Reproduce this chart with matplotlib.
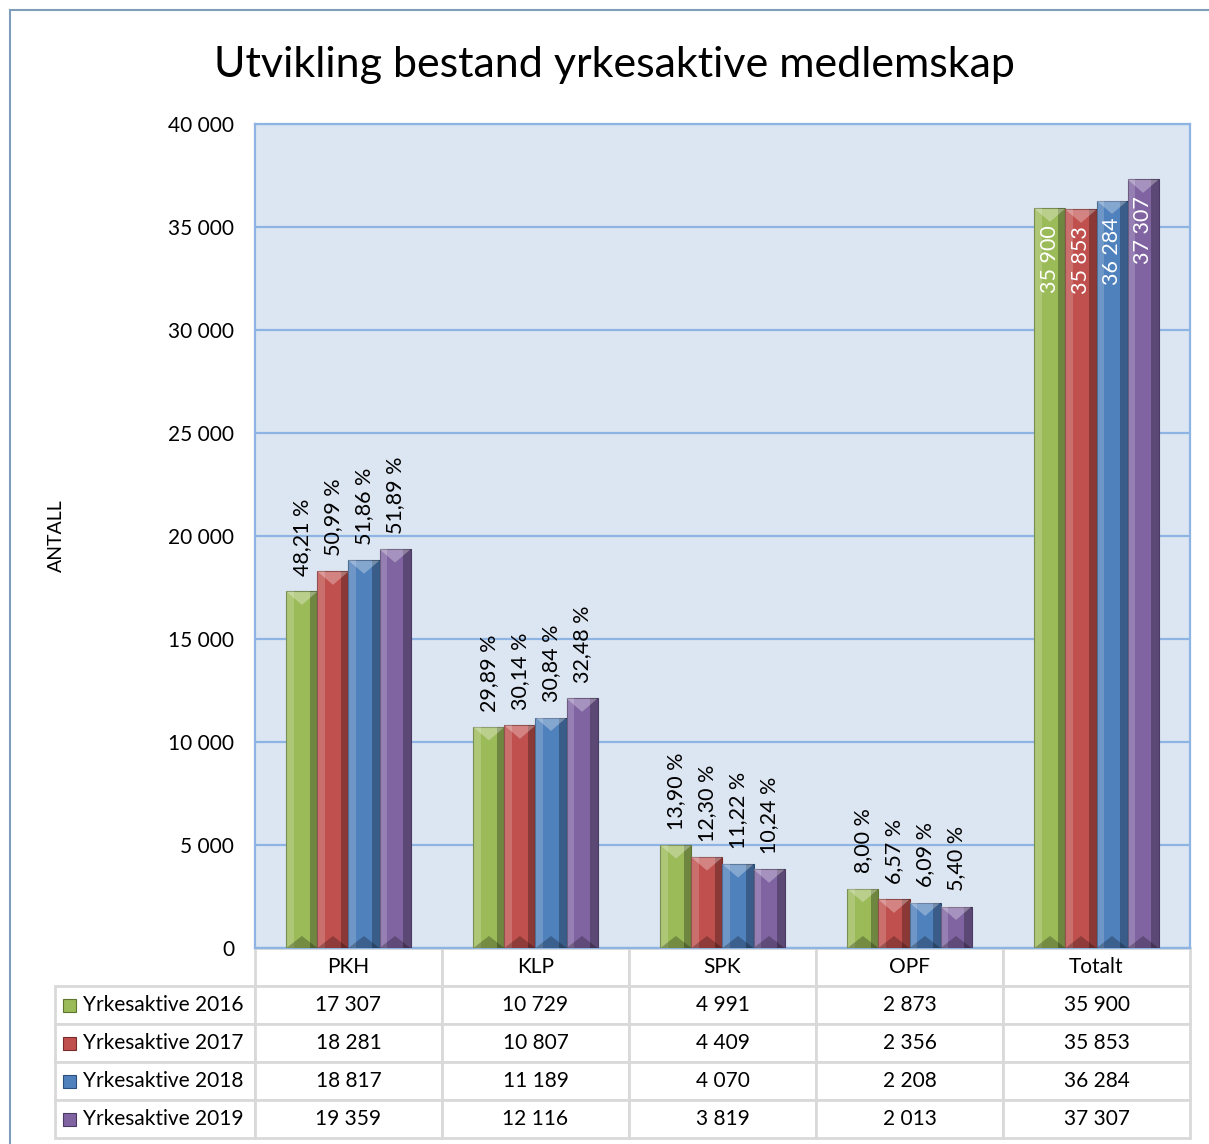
import matplotlib.pyplot as plt
import numpy as np
from matplotlib.table import Table
from matplotlib.patches import Rectangle

plt.rcParams['font.family'] = ['Lato', 'DejaVu Sans']

categories = ['PKH', 'KLP', 'SPK', 'OPF', 'Totalt']
series = ['Yrkesaktive 2016', 'Yrkesaktive 2017', 'Yrkesaktive 2018', 'Yrkesaktive 2019']
v2016 = [17307, 10729, 4991, 2873, 35900]
v2017 = [18281, 10807, 4409, 2356, 35853]
v2018 = [18817, 11189, 4070, 2208, 36284]
v2019 = [19359, 12116, 3819, 2013, 37307]
pct2016 = ['48,21 %', '29,89 %', '13,90 %', '8,00 %']
pct2017 = ['50,99 %', '30,14 %', '12,30 %', '6,57 %']
pct2018 = ['51,86 %', '30,84 %', '11,22 %', '6,09 %']
pct2019 = ['51,89 %', '32,48 %', '10,24 %', '5,40 %']
yticks = [0, 5000, 10000, 15000, 20000, 25000, 30000, 35000, 40000]

colors = ['#9BBB59', '#C0504D', '#4F81BD', '#8064A2']
darks = ['#5E7530', '#7A2B29', '#2B4E7A', '#4B3A63']
values = [v2016, v2017, v2018, v2019]
pcts = [pct2016, pct2017, pct2018, pct2019]


def fmt(v):
    return f'{v:,}'.replace(',', ' ')


fig = plt.figure(figsize=(12.09, 11.44), dpi=100)
ax = fig.add_axes([0.2109, 0.1713, 0.7734, 0.7203])
ax.set_facecolor('#DCE6F2')

x = np.arange(len(categories))
w = 0.166
tri = 650
for i in range(4):
    xs = x + (i - 1.5) * w
    ax.bar(xs, values[i], w, color=colors[i], edgecolor=darks[i], linewidth=0.8, zorder=3)
    # bevel shading
    ax.bar(xs - w * 0.38, values[i], w * 0.24, color='white', alpha=0.18, linewidth=0, zorder=4)
    ax.bar(xs + w * 0.38, values[i], w * 0.24, color='black', alpha=0.28, linewidth=0, zorder=4)
    for xc, h in zip(xs, values[i]):
        ax.fill([xc - w / 2, xc + w / 2, xc], [h, h, h - tri], color='white', alpha=0.3, lw=0, zorder=5)
        ax.fill([xc - w / 2, xc + w / 2, xc], [0, 0, tri * 0.9], color='black', alpha=0.25, lw=0, zorder=5)
    for j in range(4):
        ax.text(xs[j], values[i][j] + 750, pcts[i][j], rotation=90, ha='center', va='bottom',
                fontsize=15.5, color='black', zorder=6)
    ax.text(xs[4], values[i][4] - 800, fmt(values[i][4]), rotation=90, ha='center', va='top',
            fontsize=15.5, color='white', zorder=6)

ax.set_xlim(-0.5, len(categories) - 0.5)
ax.set_ylim(0, 40000)
ax.set_yticks(yticks)
ax.set_yticklabels([fmt(t) for t in yticks], fontsize=15)
ax.tick_params(axis='y', length=0, pad=15)
ax.set_xticks([])
ax.grid(axis='y', color='#8EB4E3', linewidth=1.6, zorder=1)
ax.set_axisbelow(True)
for s in ax.spines.values():
    s.set_color('#8EB4E3')
    s.set_linewidth(1.6)
ax.set_ylabel('ANTALL', fontsize=14, labelpad=74)

fig.text(0.508, 0.943, 'Utvikling bestand yrkesaktive medlemskap', ha='center', va='center',
         fontsize=31)

# data table below the chart
tab = Table(ax, bbox=[0, -0.2306, 1, 0.2306])
lw_col = 200 / 935
cw = 187 / 935
for c, cat in enumerate(categories):
    tab.add_cell(0, c, cw, 1, text=cat, loc='center')
for r in range(4):
    cell = tab.add_cell(r + 1, -1, lw_col, 1, text=series[r], loc='left')
    cell.PAD = 0.14
    for c in range(len(categories)):
        tab.add_cell(r + 1, c, cw, 1, text=fmt(values[r][c]), loc='center')
for (r, c), cell in tab.get_celld().items():
    cell.set_edgecolor('#D9D9D9')
    cell.set_linewidth(2)
    cell.get_text().set_fontsize(15)
tab.auto_set_font_size(False)
ax.add_table(tab)

# legend keys inside table row labels
for r in range(4):
    yc = 1 - (1005 + 38 * r) / 1144
    fig.patches.append(Rectangle((63 / 1209, yc - 6.5 / 1144), 13 / 1209, 13 / 1144,
                                 transform=fig.transFigure, facecolor=colors[r],
                                 edgecolor=darks[r], linewidth=0.8, zorder=10))

# outer border
fig.patches.append(Rectangle((10 / 1209, -0.01), 1.02, 1 - 10 / 1144 + 0.01,
                             transform=fig.transFigure, fill=False,
                             edgecolor='#7F9DB9', linewidth=1.5))

fig.savefig('out.png', dpi=100)
